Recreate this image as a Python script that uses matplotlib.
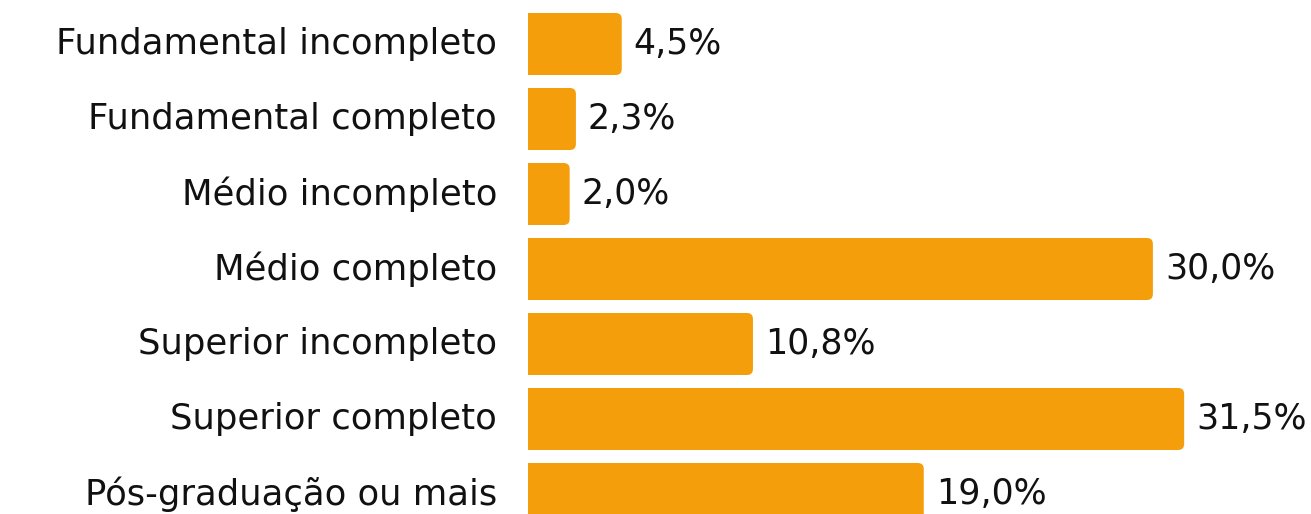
import matplotlib.pyplot as plt
from matplotlib.patches import FancyBboxPatch, Rectangle

plt.rcParams['font.family'] = ['DejaVu Sans']

categories = ["Fundamental incompleto", "Fundamental completo", "Médio incompleto",
              "Médio completo", "Superior incompleto", "Superior completo",
              "Pós-graduação ou mais"]
values = [4.5, 2.3, 2.0, 30.0, 10.8, 31.5, 19.0]
value_labels = ["4,5%", "2,3%", "2,0%", "30,0%", "10,8%", "31,5%", "19,0%"]

bar_color = "#F59E0B"
W, H = 1311, 514
px_per_x = 20.83
px_per_y = 75.0

fig = plt.figure(figsize=(W / 100, H / 100), dpi=100)
ax = fig.add_axes([528 / W, 0, 1 - 528 / W, 1])
ax.set_xlim(0, (W - 528) / px_per_x)
ax.set_ylim(470 / px_per_y, -44 / px_per_y)
ax.axis("off")

h = 62 / px_per_y
r = 6 / px_per_x
aspect = px_per_x / px_per_y

for i, (cat, v, lab) in enumerate(zip(categories, values, value_labels)):
    y0 = i - h / 2
    # rounded right end, square left end
    ax.add_patch(FancyBboxPatch((0, y0), v, h, boxstyle=f"round,pad=0,rounding_size={r}",
                                mutation_aspect=aspect, facecolor=bar_color,
                                edgecolor="none"))
    ax.add_patch(Rectangle((0, y0), v / 2, h, facecolor=bar_color, edgecolor="none"))
    ax.text(v + 12 / px_per_x, i, lab, va="center", ha="left", fontsize=25,
            color="#111111")
    ax.text(-31 / px_per_x, i, cat, va="center", ha="right", fontsize=25.5,
            color="#111111", clip_on=False)

plt.savefig("out.png", dpi=100)
